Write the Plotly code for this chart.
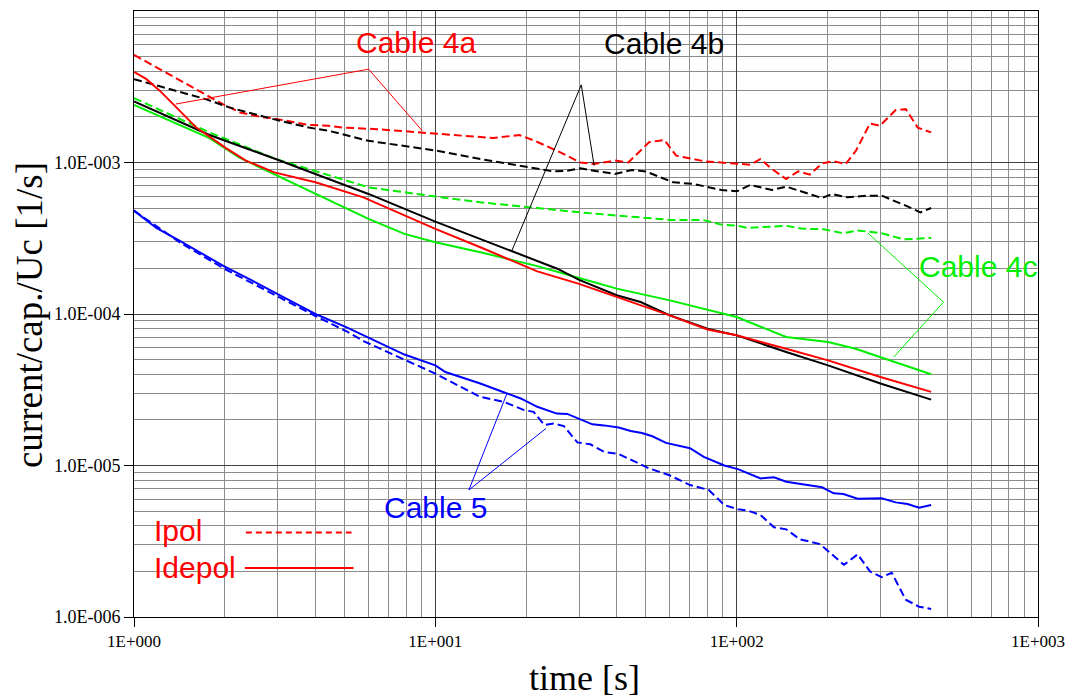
import plotly.graph_objects as go

# ---------------- data (time [s], current/cap./Uc [1/s]) ----------------
t_ipol_4a = [1, 1.97, 2.25, 2.63, 2.88, 3.8, 4.42, 4.94, 6.41, 9.0, 10, 15.6, 19.0, 21.4, 25.9, 30.3, 33.6,
             39.4, 43.7, 51.2, 57.5, 63, 77.8, 101, 111, 120, 131, 146, 160, 175, 192, 210, 230, 249,
             277, 299, 337, 364, 399, 442]
ipol_4a = [5.13e-3, 2.43e-3, 2.14e-3, 2.0e-3, 1.96e-3, 1.77e-3, 1.75e-3, 1.70e-3, 1.66e-3, 1.58e-3, 1.54e-3,
           1.45e-3, 1.52e-3, 1.39e-3, 1.17e-3, 1.0e-3, 0.977e-3, 1.03e-3, 1.0e-3, 1.36e-3, 1.41e-3,
           1.11e-3, 1.02e-3, 0.977e-3, 0.967e-3, 1.055e-3, 0.906e-3, 0.778e-3, 0.873e-3, 0.832e-3,
           0.986e-3, 1.02e-3, 0.977e-3, 1.2e-3, 1.81e-3, 1.75e-3, 2.22e-3, 2.25e-3, 1.70e-3, 1.58e-3]

t_ipol_4b = [1, 1.73, 2.07, 2.63, 2.88, 3.8, 4.42, 6.0, 10, 14.1, 21.8, 24.6, 27.4, 30.3, 33.6, 39.4, 44.9,
             49.9, 61.5, 72, 88.9, 100, 111, 131, 146, 171, 192, 207, 233, 273, 303, 364, 407, 442]
ipol_4b = [3.55e-3, 2.62e-3, 2.31e-3, 2.03e-3, 1.94e-3, 1.70e-3, 1.62e-3, 1.39e-3, 1.20e-3, 1.055e-3,
           0.906e-3, 0.873e-3, 0.883e-3, 0.915e-3, 0.883e-3, 0.84e-3, 0.893e-3, 0.873e-3, 0.74e-3,
           0.722e-3, 0.659e-3, 0.645e-3, 0.711e-3, 0.659e-3, 0.693e-3, 0.626e-3, 0.583e-3, 0.62e-3,
           0.589e-3, 0.604e-3, 0.604e-3, 0.519e-3, 0.469e-3, 0.501e-3]

t_ipol_4c = [1, 1.78, 2.95, 4.94, 6.0, 10, 14.1, 21.8, 30, 40, 60, 77, 88.9, 100, 109, 146, 166, 194,
             226, 252, 303, 359, 442]
ipol_4c = [2.66e-3, 1.58e-3, 1.055e-3, 0.778e-3, 0.686e-3, 0.596e-3, 0.546e-3, 0.501e-3, 0.469e-3,
           0.447e-3, 0.418e-3, 0.418e-3, 0.389e-3, 0.383e-3, 0.37e-3, 0.382e-3, 0.365e-3, 0.363e-3,
           0.341e-3, 0.356e-3, 0.341e-3, 0.311e-3, 0.318e-3]

t_idepol_4a = [1, 1.10, 1.22, 1.61, 2.02, 2.35, 2.92, 4.0, 5.77, 10, 14.1, 21.8, 30, 40, 60, 80, 100,
               146, 201, 300, 442]
idepol_4a = [3.96e-3, 3.55e-3, 2.97e-3, 1.70e-3, 1.245e-3, 1.03e-3, 0.861e-3, 0.74e-3, 0.589e-3,
             0.365e-3, 0.276e-3, 0.191e-3, 0.158e-3, 0.129e-3, 0.098e-3, 0.079e-3, 0.0723e-3,
             0.059e-3, 0.0494e-3, 0.0384e-3, 0.0306e-3]

t_idepol_4b = [1, 1.78, 2.95, 6.0, 10, 17.9, 21.8, 25.4, 30, 40, 48, 60, 80, 100, 146, 201, 300, 442]
idepol_4b = [2.53e-3, 1.52e-3, 1.055e-3, 0.62e-3, 0.407e-3, 0.26e-3, 0.222e-3, 0.199e-3, 0.168e-3,
             0.133e-3, 0.12e-3, 0.098e-3, 0.08e-3, 0.0723e-3, 0.0561e-3, 0.0458e-3, 0.0348e-3, 0.0272e-3]

t_idepol_4c = [1, 1.78, 2.23, 2.92, 4.94, 6.0, 7.9, 10, 14.1, 21.8, 30, 40, 60, 80, 100, 146, 201,
               248, 300, 442]
idepol_4c = [2.40e-3, 1.45e-3, 1.08e-3, 0.84e-3, 0.51e-3, 0.425e-3, 0.338e-3, 0.298e-3, 0.256e-3,
             0.207e-3, 0.173e-3, 0.147e-3, 0.123e-3, 0.107e-3, 0.0955e-3, 0.0705e-3, 0.0653e-3,
             0.059e-3, 0.052e-3, 0.04e-3]

t_ipol_5 = [1, 1.415, 1.993, 3.03, 3.53, 4.0, 5.06, 5.8, 10, 11.7, 14.06, 16.9, 19.7, 21.2, 23, 24.7,
            26.7, 29.6, 32.7, 36.3, 40.6, 46, 51.2, 59.6, 70, 80.8, 91, 101, 109, 120, 133, 146, 162,
            189, 204, 227, 252, 277, 303, 327, 364, 403, 442]
ipol_5 = [4.81e-4, 2.98e-4, 1.99e-4, 1.29e-4, 1.11e-4, 0.97e-4, 0.77e-4, 0.66e-4, 0.404e-4, 0.345e-4,
          0.284e-4, 0.263e-4, 0.232e-4, 0.226e-4, 0.185e-4, 0.189e-4, 0.182e-4, 0.142e-4, 0.138e-4,
          0.123e-4, 0.119e-4, 0.106e-4, 0.0957e-4, 0.0865e-4, 0.0743e-4, 0.0689e-4, 0.0548e-4,
          0.0514e-4, 0.0504e-4, 0.0471e-4, 0.0391e-4, 0.0379e-4, 0.0326e-4, 0.0303e-4, 0.0264e-4,
          0.0221e-4, 0.0259e-4, 0.020e-4, 0.0183e-4, 0.0196e-4, 0.0130e-4, 0.0117e-4, 0.0113e-4]

t_idepol_5 = [1, 1.186, 1.415, 1.648, 1.993, 2.47, 3.03, 3.53, 4.0, 5.06, 7.9, 10, 10.8, 14.1, 17.3,
              19.2, 21.8, 25.3, 27.4, 33.2, 36.3, 40.6, 44.5, 48.5, 52.5, 58.3, 70, 77.8, 91, 101, 120,
              133, 146, 171, 192, 210, 226, 252, 303, 337, 369, 403, 442]
idepol_5 = [4.81e-4, 3.7e-4, 3.05e-4, 2.56e-4, 2.06e-4, 1.66e-4, 1.33e-4, 1.14e-4, 1.0e-4, 0.82e-4,
            0.54e-4, 0.458e-4, 0.414e-4, 0.348e-4, 0.299e-4, 0.277e-4, 0.244e-4, 0.22e-4, 0.219e-4,
            0.187e-4, 0.184e-4, 0.178e-4, 0.169e-4, 0.164e-4, 0.156e-4, 0.141e-4, 0.13e-4, 0.114e-4,
            0.1e-4, 0.0946e-4, 0.0822e-4, 0.0836e-4, 0.0782e-4, 0.0743e-4, 0.0718e-4, 0.0655e-4,
            0.0648e-4, 0.0604e-4, 0.0607e-4, 0.0571e-4, 0.0557e-4, 0.0526e-4, 0.0548e-4]

# leader lines of the cable labels (data coordinates)
lead_4a_t = [1.376, 6.005, 9.05]
lead_4a_v = [2.43e-3, 4.13e-3, 1.62e-3]
lead_4b_t = [17.9, 30.5, 33.65]
lead_4b_v = [2.585e-4, 3.255e-3, 9.53e-4]
lead_4c_t = [273.1, 485.6, 332.2]
lead_4c_v = [3.41e-4, 1.198e-4, 5.2e-5]
lead_5_t = [17.3, 12.92, 23.28]
lead_5_v = [3.0e-5, 6.89e-6, 1.755e-5]

# ticks
x_ticks = [1, 10, 100, 1000]
x_ticklabels = ["1E+000", "1E+001", "1E+002", "1E+003"]
y_ticks = [1e-6, 1e-5, 1e-4, 1e-3]
y_ticklabels = ["1.0E-006", "1.0E-005", "1.0E-004", "1.0E-003"]
x_minor = [k * 10 ** d for d in range(0, 3) for k in range(2, 10)]
y_minor = [k * 10.0 ** d for d in range(-6, -2) for k in range(2, 10)]

RED, BLACK, GREEN, BLUE = "#ff0000", "#000000", "#00ee00", "#0000ff"
DASH = "8px,4px"

fig = go.Figure()


def add(t, v, color, dash=None, width=2):
    fig.add_trace(go.Scatter(x=t, y=v, mode="lines",
                             line=dict(color=color, width=width, dash=dash),
                             showlegend=False, hoverinfo="skip"))


add(t_ipol_4a, ipol_4a, RED, DASH)
add(t_ipol_4b, ipol_4b, BLACK, DASH)
add(t_ipol_4c, ipol_4c, GREEN, DASH)
add(t_ipol_5, ipol_5, BLUE, DASH)
add(t_idepol_4c, idepol_4c, GREEN)
add(t_idepol_4b, idepol_4b, BLACK)
add(t_idepol_4a, idepol_4a, RED)
add(t_idepol_5, idepol_5, BLUE)

add(lead_4a_t, lead_4a_v, RED, width=1)
add(lead_4b_t, lead_4b_v, BLACK, width=1)
add(lead_4c_t, lead_4c_v, GREEN, width=1)
add(lead_5_t, lead_5_v, BLUE, width=1)

sans = "Liberation Sans, Arial, sans-serif"
serif = "Liberation Serif, Times New Roman, serif"

labels = [
    ("Cable 4a", 0.3121, 0.9473, RED, "center"),
    ("Cable 4b", 0.5862, 0.9456, BLACK, "center"),
    ("Cable 4c", 0.9337, 0.5783, GREEN, "center"),
    ("Cable 5", 0.3333, 0.1812, BLUE, "center"),
    ("Ipol", 0.0195, 0.1433, RED, "left"),
    ("Idepol", 0.0195, 0.0824, RED, "left"),
]
for txt, x, y, col, anc in labels:
    fig.add_annotation(text=txt, x=x, y=y, xref="paper", yref="paper", showarrow=False,
                       xanchor=anc, yanchor="middle", font=dict(family=sans, size=30, color=col))

# legend sample lines
fig.add_shape(type="line", xref="paper", yref="paper", x0=0.1237, x1=0.2406, y0=0.1395, y1=0.1395,
              line=dict(color=RED, width=2, dash="6px,4px"))
fig.add_shape(type="line", xref="paper", yref="paper", x0=0.1226, x1=0.2428, y0=0.0807, y1=0.0807,
              line=dict(color=RED, width=2))

# axis titles
fig.add_annotation(text="time [s]", x=0.4985, y=-0.1005, xref="paper", yref="paper", showarrow=False,
                   xanchor="center", yanchor="middle", font=dict(family=serif, size=36, color="black"))
fig.add_annotation(text="current/cap./Uc [1/s]", x=-0.1155, y=0.4975, xref="paper", yref="paper",
                   showarrow=False, textangle=-90, xanchor="center", yanchor="middle",
                   font=dict(family=serif, size=37, color="black"))

axis_common = dict(type="log", tickmode="array", showgrid=True, gridcolor="#404040", gridwidth=1,
                   showline=True, linecolor="black", linewidth=1, mirror=True, ticks="outside",
                   ticklen=9, tickcolor="black", zeroline=False)

fig.update_layout(
    width=1075, height=698, autosize=False,
    margin=dict(l=134, r=32, t=10, b=81),
    paper_bgcolor="white", plot_bgcolor="white",
    xaxis=dict(range=[0, 3], tickvals=x_ticks, ticktext=x_ticklabels,
               tickfont=dict(family=serif, size=17, color="black"),
               minor=dict(tickmode="array", tickvals=x_minor, showgrid=True, gridcolor="#8c8c8c",
                          gridwidth=1, ticks=""),
               **axis_common),
    yaxis=dict(range=[-6, -2], tickvals=y_ticks, ticktext=y_ticklabels,
               tickfont=dict(family=serif, size=18, color="black"),
               minor=dict(tickmode="array", tickvals=y_minor, showgrid=True, gridcolor="#8c8c8c",
                          gridwidth=1, ticks=""),
               **axis_common),
)

# remove the default page margin so the figure fills the 1075x698 window exactly
fig.write_html("out.html", config={"displayModeBar": False, "responsive": False},
               post_script="document.body.style.margin='0';")
